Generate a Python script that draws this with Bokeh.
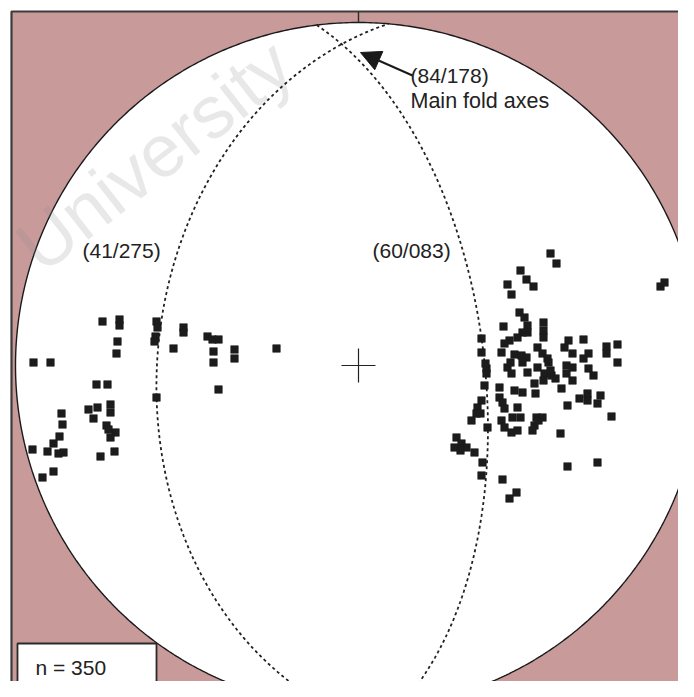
import numpy as np
from bokeh.plotting import figure
from bokeh.models import Range1d, Arrow, NormalHead
from bokeh.core.properties import value
from bokeh.embed import file_html
from bokeh.resources import INLINE

# ---------------- data ----------------
R = 343.0                      # primitive radius (net units)
plane_dip = [41, 60]
plane_dipdir = [275, 83]
plane_labels = ["(41/275)", "(60/083)"]
fold_label = "(84/178)"
fold_text = "Main fold axes"
n_text = "n = 350"
watermark = "University"

# digitised pole positions (digitiser frame, origin at net centre CX, CY; y down)
CX, CY = 358, 365
west_x = [102, 119, 119, 117, 116, 33, 50, 96, 107, 88, 97, 110, 110, 93, 61, 62, 106, 108, 115, 110,
          59, 53, 32, 47, 58, 63, 100, 114, 53, 42]
west_y = [321, 319, 325, 341, 353, 362, 362, 384, 384, 409, 407, 404, 412, 418, 413, 424, 425, 429, 432, 437,
          436, 443, 449, 451, 453, 452, 456, 451, 471, 477]
mid_x = [156, 157, 155, 154, 183, 183, 173, 207, 212, 218, 213, 213, 234, 234, 218, 276, 156]
mid_y = [321, 327, 336, 341, 327, 332, 348, 336, 339, 339, 351, 362, 349, 358, 389, 348, 397]
east_x = [550, 556, 520, 526, 533, 507, 511, 660, 664, 690,
          519, 524, 527, 503, 543, 543, 543, 527, 522, 517, 509, 504, 481,
          481, 501, 514, 521, 526, 537, 542, 547, 564, 568, 583, 572, 588, 583, 606, 617, 606, 617,
          486, 486, 507, 511, 527, 537, 544, 551, 566, 566, 572, 572, 588, 593, 510, 522, 485, 548, 550, 543, 555,
          484, 499, 514, 522, 534, 535, 561,
          481, 477, 476, 471, 480, 499, 502, 504, 517, 567, 579, 587, 587, 600, 597, 611,
          501, 504, 511, 517, 512, 520, 536, 534, 538, 532, 487, 560, 542,
          456, 461, 454, 466, 474, 460,
          482, 481, 567, 597, 502, 516, 509]
east_y = [253, 263, 270, 279, 286, 284, 294, 286, 282, 280,
          312, 317, 325, 326, 322, 330, 337, 332, 332, 337, 340, 343, 338,
          352, 352, 354, 355, 357, 347, 353, 358, 347, 340, 339, 353, 353, 358, 346, 344, 353, 362,
          368, 373, 367, 373, 372, 367, 373, 375, 365, 373, 367, 380, 368, 375, 362, 362, 363, 362, 370, 380, 378,
          385, 387, 390, 392, 383, 393, 388,
          400, 407, 413, 420, 413, 397, 402, 408, 407, 405, 398, 393, 400, 395, 403, 416,
          420, 427, 432, 430, 417, 417, 417, 425, 420, 430, 427, 433, 417,
          437, 443, 447, 447, 452, 450,
          462, 475, 466, 462, 479, 492, 498]

dig_x = np.array(west_x + mid_x + east_x, dtype=float)
dig_y = np.array(west_y + mid_y + east_y, dtype=float)
pole_e = dig_x - CX
pole_n = CY - dig_y


def great_circle(dip, dipdir, n=241):
    d = np.radians(dip)
    dd = np.radians(dipdir)
    s = dd - np.pi / 2
    t = np.linspace(0, np.pi, n)
    sv = np.array([np.sin(s), np.cos(s), 0.0])
    dv = np.array([np.cos(d) * np.sin(dd), np.cos(d) * np.cos(dd), np.sin(d)])
    v = np.outer(np.cos(t), sv) + np.outer(np.sin(t), dv)
    plunge = np.arcsin(np.clip(v[:, 2], -1, 1))
    trend = np.arctan2(v[:, 0], v[:, 1])
    r = R * np.sqrt(2) * np.sin((np.pi / 2 - plunge) / 2)
    return r * np.sin(trend), r * np.cos(trend)


# ---------------- figure ----------------
W, H = 678, 681
p = figure(width=W, height=H, x_range=Range1d(-CX, W - CX), y_range=Range1d(CY - H, CY),
           output_backend="svg", toolbar_location=None, x_axis_type=None, y_axis_type=None,
           min_border=0)
p.grid.visible = False
p.outline_line_color = None
p.background_fill_color = "white"
p.border_fill_color = "white"

FONT = value("Liberation Sans")
left_edge, top_edge = 11 - CX, CY - 11

# pink frame
p.quad(left=[left_edge], right=[800], top=[top_edge], bottom=[-800],
       fill_color="#c89a9a", line_color=None)
p.line([left_edge, left_edge, 800], [-800, top_edge, top_edge], line_color="#3c3c3c", line_width=2.2)

# primitive circle
th = np.linspace(0, 2 * np.pi, 721)
p.patch(R * np.cos(th), R * np.sin(th), fill_color="white", line_color="#1a1a1a", line_width=1.4)

# north tick
p.segment(x0=[0], y0=[R], x1=[0], y1=[top_edge], line_color="#2a2a2a", line_width=1.4)

# watermark
p.text(x=[-332], y=[110], text=[watermark], angle=np.radians(38), text_font=FONT,
       text_font_size="74px", text_color="#8a8a8a", text_alpha=0.2, text_baseline="alphabetic")

# great circles
for dip, dd in zip(plane_dip, plane_dipdir):
    gx, gy = great_circle(dip, dd)
    p.line(gx, gy, line_color="#222222", line_width=1.8, line_dash="3 3")

# centre cross
p.segment(x0=[-17, 0], y0=[0, -17], x1=[17, 0], y1=[0, 17], line_color="#222222", line_width=1.2)

# poles
p.scatter(pole_e, pole_n, marker="square", size=7.5, fill_color="#1c1c1c", line_color="#1c1c1c",
          line_width=0.6)

# labels
p.text(x=[-276, 14], y=[115, 115], text=plane_labels, text_font=FONT, text_font_size="21px",
       text_color="#222222", text_baseline="middle", text_align="left")
p.text(x=[52], y=[290], text=[fold_label], text_font=FONT, text_font_size="21px",
       text_color="#222222", text_baseline="middle", text_align="left")
p.text(x=[52], y=[265], text=[fold_text], text_font=FONT, text_font_size="21.5px",
       text_color="#222222", text_baseline="middle", text_align="left")

# arrow to fold axis
p.add_layout(Arrow(end=NormalHead(size=20, fill_color="#1a1a1a", line_color="#1a1a1a"),
                   x_start=54, y_start=290, x_end=2, y_end=313, line_color="#1a1a1a", line_width=2))

# n box
p.quad(left=[17 - CX], right=[156 - CX], top=[CY - 643], bottom=[-800],
       fill_color="white", line_color="#2a2a2a", line_width=1.8)
p.text(x=[35 - CX], y=[CY - 667], text=[n_text], text_font=FONT, text_font_size="21px",
       text_color="#222222", text_baseline="middle", text_align="left")

open("out.html", "w").write(file_html(p, INLINE))
